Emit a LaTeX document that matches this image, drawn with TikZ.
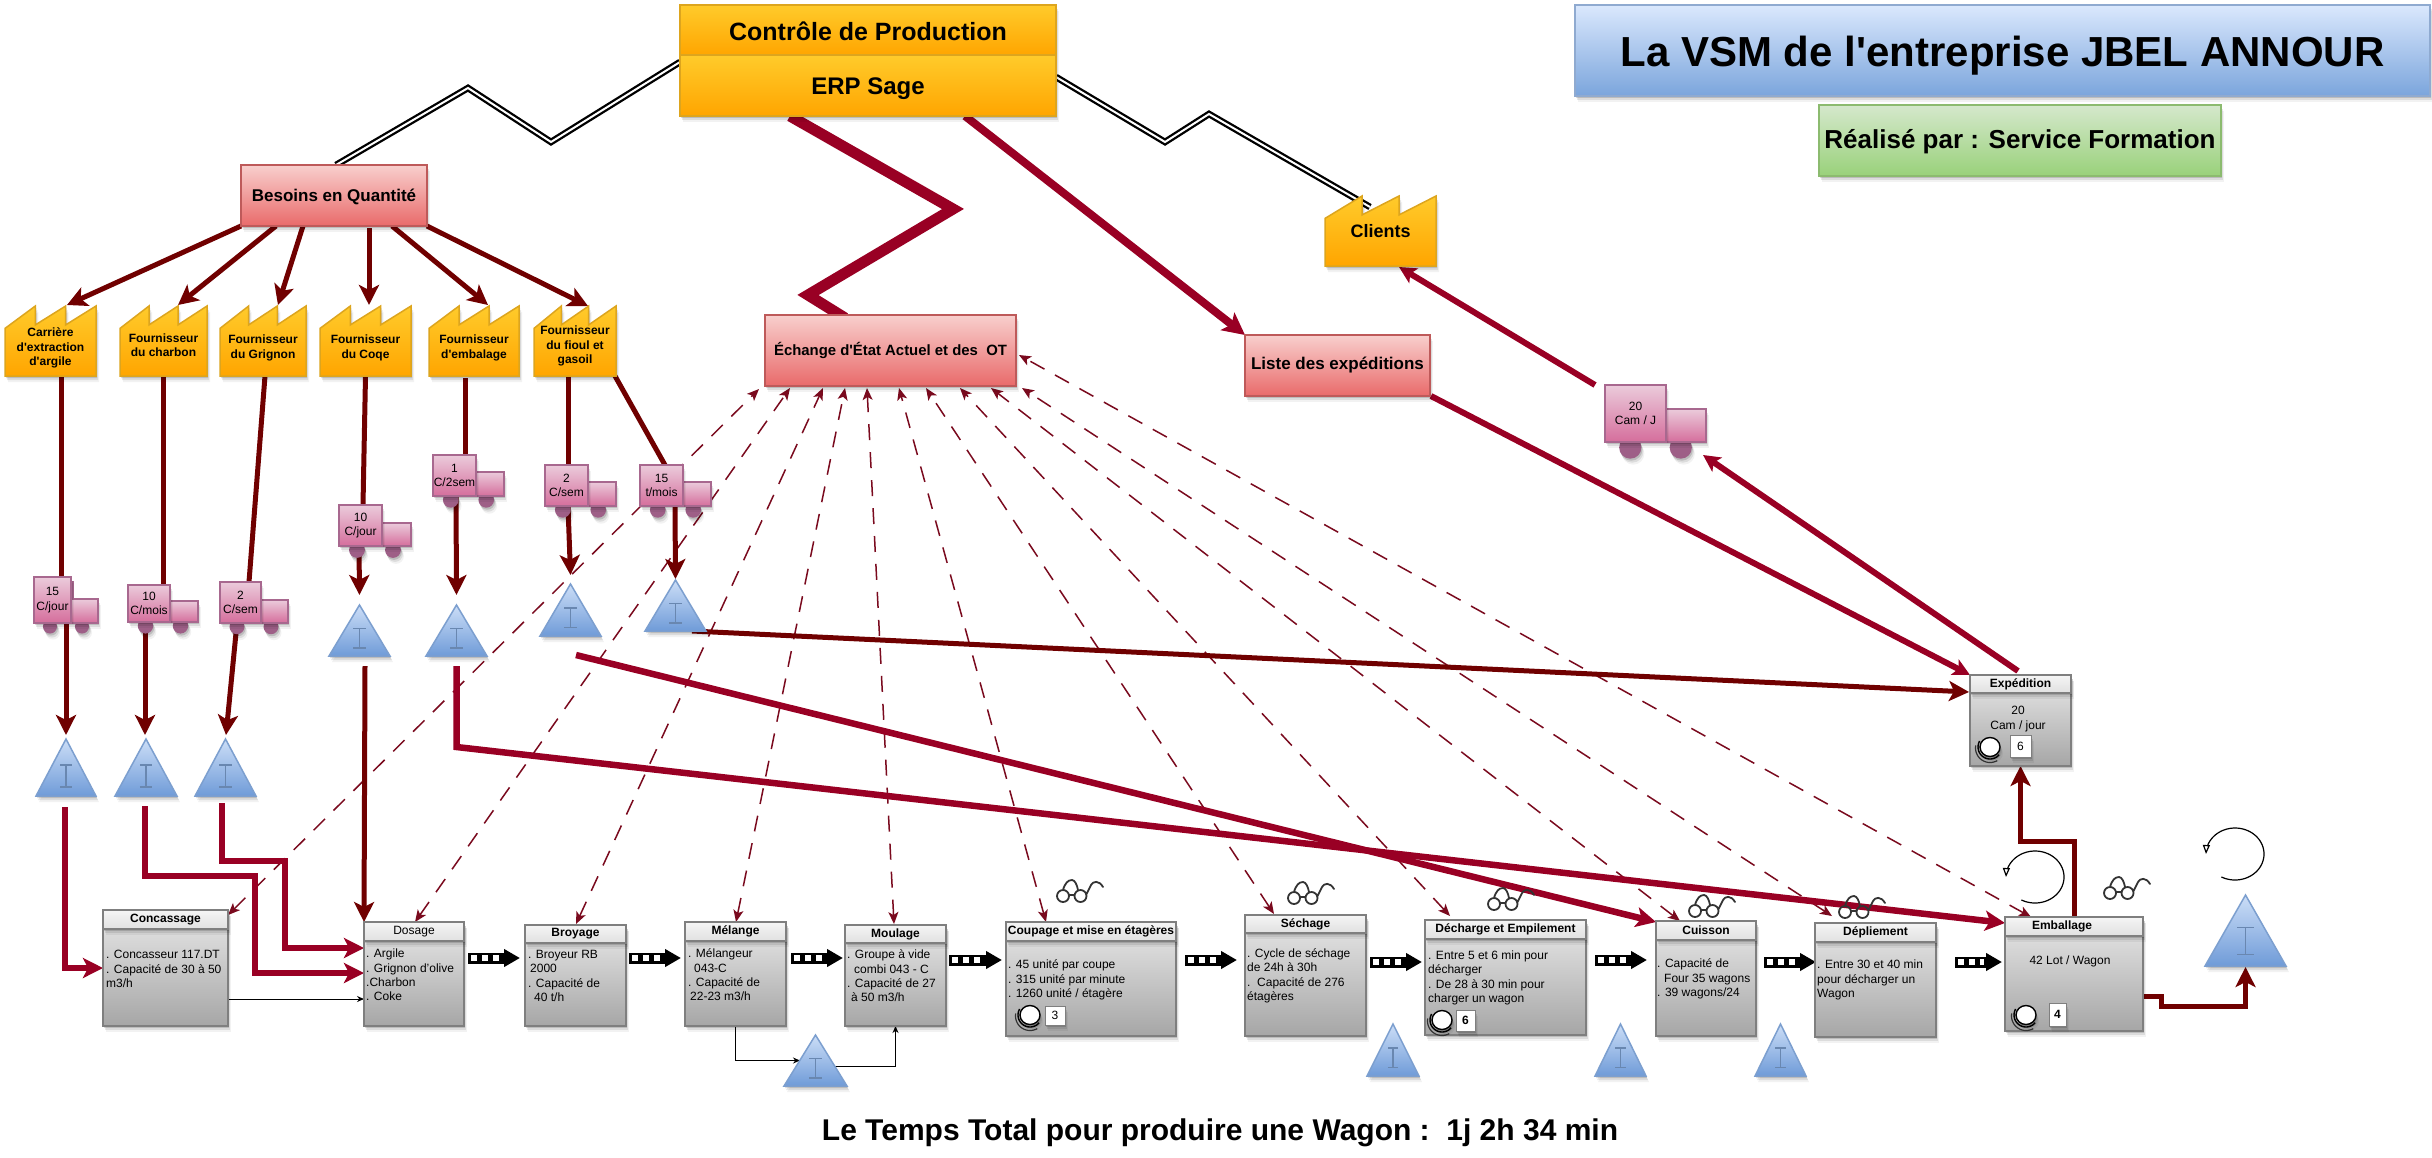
\documentclass[tikz,border=0pt]{standalone}
\usepackage{fontspec}
\setmainfont{Liberation Sans}[Ligatures=TeXOff]
\usetikzlibrary{arrows.meta,shadows,calc}
\pgfdeclarelayer{bg}\pgfsetlayers{bg,main}
\definecolor{orgT}{HTML}{FFCB2B}\definecolor{orgB}{HTML}{FFA500}\definecolor{orgL}{HTML}{DDA51E}
\definecolor{redT}{HTML}{F8CFCD}\definecolor{redB}{HTML}{E96A6A}\definecolor{redL}{HTML}{BE5A5A}
\definecolor{pnkT}{HTML}{EBCBDB}\definecolor{pnkB}{HTML}{D56E9C}\definecolor{pnkL}{HTML}{A8688F}\definecolor{whl}{HTML}{9E5F87}
\definecolor{bluT}{HTML}{CCDEF7}\definecolor{bluB}{HTML}{6F9BD8}\definecolor{bluL}{HTML}{7C9FCF}
\definecolor{ttlT}{HTML}{DAE8FD}\definecolor{ttlB}{HTML}{7BA5DC}\definecolor{ttlL}{HTML}{8FAAD0}
\definecolor{grnT}{HTML}{D5E8CC}\definecolor{grnB}{HTML}{99D17A}\definecolor{grnL}{HTML}{8CBB6F}
\definecolor{prcT}{HTML}{E8E8E8}\definecolor{prcB}{HTML}{A6A6A6}\definecolor{prcL}{HTML}{7F7F7F}
\definecolor{darkred}{HTML}{700000}\definecolor{crim}{HTML}{990024}\definecolor{dashc}{HTML}{7A0A1E}
\tikzset{
 softsh/.style={drop shadow={shadow xshift=1pt,shadow yshift=-2pt,opacity=.14,fill=black},
   drop shadow={shadow xshift=2pt,shadow yshift=-4pt,opacity=.09,fill=black},
   drop shadow={shadow xshift=3pt,shadow yshift=-6pt,opacity=.05,fill=black}},
 boxbase/.style={rectangle,inner sep=0pt,outer sep=0pt,anchor=north west,line width=2pt,align=center,softsh},
 orangefill/.style={top color=orgT,bottom color=orgB,draw=orgL},
 redfill/.style={top color=redT,bottom color=redB,draw=redL},
 pinkfill/.style={top color=pnkT,bottom color=pnkB,draw=pnkL},
 bluefill/.style={top color=bluT,bottom color=bluB,draw=bluL},
 titlefill/.style={top color=ttlT,bottom color=ttlB,draw=ttlL},
 greenfill/.style={top color=grnT,bottom color=grnB,draw=grnL},
 procfill/.style={top color=prcT,bottom color=prcB,draw=prcL},
 headfill/.style={top color=white!96!black,bottom color=white!88!black,draw=prcL},
 ghost/.style={rectangle,inner sep=0pt,outer sep=0pt,anchor=north west},
 factlabel/.style={align=center,inner sep=0pt,font=\fontsize{12}{14.4}\selectfont\bfseries},
 trucklabel/.style={align=center,inner sep=0pt,font=\fontsize{12}{14.4}\selectfont},
 headtxt/.style={font=\fontsize{12}{14}\selectfont\bfseries},
 bodytxt/.style={anchor=west,align=left,inner sep=0pt,font=\fontsize{12}{14.4}\selectfont},
 numbox/.style={rectangle,draw=prcL,fill=white,line width=1pt,inner sep=0pt,outer sep=0pt,anchor=north west,font=\fontsize{12}{14}\selectfont,softsh},
 darkflow/.style={draw=darkred,line width=5pt,miter limit=10,-{Stealth[length=20pt,width=20pt,inset=5pt]}},
 crimflow/.style={draw=crim,line width=6.5pt,miter limit=10,-{Stealth[length=20pt,width=20pt,inset=5pt]}},
 infoflow/.style={draw=crim,line width=6pt,-{Stealth[length=17pt,width=17pt,inset=4pt]}},
 dashflow/.style={draw=dashc,line width=1.5pt,dash pattern=on 16pt off 12pt,{Stealth[length=12pt,width=10pt,inset=3pt]}-{Stealth[length=12pt,width=10pt,inset=3pt]}},
 thinflow/.style={draw=black,line width=1pt,-{Stealth[length=7pt,width=6pt]}},
 eflow/.style={draw=black,line width=2.3pt,double=white,double distance=2pt,miter limit=10},
 pushflow/.style={draw=black,line width=11pt,-{Triangle[length=16pt,width=17pt]},
   postaction={draw=white,-,line width=6pt,dash pattern=on 6pt off 5pt,shorten >=18pt,shorten <=3pt}},
 cycleflow/.style={draw=black,line width=1.2pt,-{Triangle[open,length=9pt,width=7pt,fill=white]}},
 plain/.style={draw=darkred,line width=5pt},
}
\newcommand\rectnode[7]{\node[boxbase,#1,minimum width={#5-#3},minimum height={#6-#4}] (#2) at (#3,#4) {#7};}
\newcommand\factory[8][]{%
 \pgfmathsetmacro\fa{#3+(#5-#3)/3}\pgfmathsetmacro\fb{#3+2*(#5-#3)/3}%
 \pgfmathsetmacro\fs{#4+.32*(#6-#4)}\pgfmathsetmacro\fn{#4+.27*(#6-#4)}%
 \draw[orangefill,softsh,line width=1.5pt] (#3,#6) -- (#3,\fs) -- (\fa,#4) -- (\fa,\fn) -- (\fb,#4) -- (\fb,\fn) -- (#5,#4) -- (#5,#6) -- cycle;
 \node[ghost,minimum width={#5-#3},minimum height={#6-#4}] (#2) at (#3,#4) {};
 \node[factlabel,#1] (#2t) at ({(#3+#5)/2},#7) {#8};}
\newcommand\truck[8]{%
 \pgfmathsetmacro\tw{#6-#2}\pgfmathsetmacro\tr{.11*\tw}\pgfmathsetmacro\ty{#5+.5*\tr}%
 \fill[whl,softsh] ({#2+.25*\tw},\ty) circle[radius=\tr pt];
 \fill[whl,softsh] ({#2+.75*\tw},\ty) circle[radius=\tr pt];
 \draw[pinkfill,softsh,line width=1.5pt] (#4,#7) rectangle (#6,#5);
 \node[boxbase,pinkfill,trucklabel,line width=1.5pt,minimum width={#4-#2},minimum height={#5-#3}] (#1) at (#2,#3) {#8};}
\newcommand\kanban[5]{%
 \pgfmathsetmacro\kc{(#2+#4)/2}\pgfmathsetmacro\kh{#5-#3}\pgfmathsetmacro\kw{.1*(#4-#2)}%
 \pgfmathsetmacro\ka{#3+.46*\kh}\pgfmathsetmacro\kb{#3+.84*\kh}%
 \draw[bluefill,softsh,line width=1.5pt,line join=miter] (#2,#5) -- (\kc,#3) -- (#4,#5) -- cycle;
 \draw[draw=bluL!85!black,line width=1.6pt] ({\kc-\kw},\ka) -- ({\kc+\kw},\ka) (\kc,\ka) -- (\kc,\kb) ({\kc-\kw},\kb) -- ({\kc+\kw},\kb);
 \node[ghost,minimum width={#4-#2},minimum height={#5-#3}] (#1) at (#2,#3) {};}
\newcommand\procbox[7]{%
 \rectnode{procfill}{#1}{#2}{#3}{#4}{#5}{}
 \rectnode{headfill,headtxt}{#1h}{#2}{#3}{#4}{#6}{#7}}
\newcommand\opicon[7]{% name cx cy corner w h number
 \draw[black,line width=1.4pt] plot[domain=150:320,samples=24] ({#2+12*cos(\x)},{#3-12*sin(\x)});
 \draw[black!80,line width=1.2pt] plot[domain=170:300,samples=24] ({#2+14.5*cos(\x)},{#3+1-14.5*sin(\x)});
 \draw[black,fill=white,line width=1.4pt,softsh] (#2,#3) ellipse[x radius=10pt,y radius=9.5pt];
 \node[numbox,minimum width=#5,minimum height=#6] (#1) at (#4) {#7};}
\newcommand\glassicon[2]{%
 \draw[shift={(#1,#2)},draw=black!80,line width=1.8pt,line cap=round]
  (-15,5) circle[radius=6pt] (2.5,5) circle[radius=6pt] (-9,4) -- (-3.5,4)
  (-15,-1) .. controls (-13,-8) and (-10,-11) .. (-6,-11) .. controls (-3,-11) and (-1,-6) .. (0,-1)
  (8,4) -- (13,-6) .. controls (15,-10) and (21,-11) .. (25,-4);}
\begin{document}
\begin{tikzpicture}[x=1pt,y=-1pt]
\useasboundingbox (0,0) rectangle (2432,1157);
% information boxes
\rectnode{orangefill,font=\fontsize{25}{28}\selectfont\bfseries}{ctl}{680}{5}{1056}{55}{\rule{0pt}{21pt}Contrôle de Production}
\rectnode{orangefill,font=\fontsize{24}{28}\selectfont\bfseries}{erp}{680}{55}{1056}{116}{\rule{0pt}{24pt}ERP Sage}
\rectnode{redfill,font=\fontsize{17}{20}\selectfont\bfseries}{bes}{241}{165}{427}{226}{\rule{0pt}{15pt}Besoins en Quantité}
\rectnode{redfill,font=\fontsize{14.9}{16}\selectfont\bfseries}{ech}{765}{315}{1016}{386}{Échange d'État Actuel et des\ \ OT}
\rectnode{redfill,font=\fontsize{17}{20}\selectfont\bfseries}{lis}{1245}{335}{1430}{396}{Liste des expéditions}
\rectnode{titlefill,font=\fontsize{42}{46}\selectfont\bfseries}{ttl}{1575}{5}{2430}{96}{\rule{0pt}{40pt}La VSM de l'entreprise JBEL ANNOUR}
\rectnode{greenfill,font=\fontsize{26}{30}\selectfont\bfseries}{rea}{1819}{105}{2221}{176}{\rule{0pt}{22pt}Réalisé par : Service Formation}
\node[font=\fontsize{30}{34}\selectfont\bfseries,inner sep=0pt] (tot) at (1220,1133) {Le Temps Total pour produire une Wagon :\ \ 1j 2h 34 min};
% factories
\factory{f1}{5}{306}{96}{376}{348}{Carrière\\d'extraction\\d'argile}
\factory{f2}{120}{306}{207}{376}{345}{Fournisseur\\du charbon}
\factory{f3}{220}{306}{306}{376}{348}{Fournisseur\\du Grignon}
\factory{f4}{320}{306}{411}{376}{348}{Fournisseur\\du Coqe}
\factory{f5}{429}{306}{519}{376}{348}{Fournisseur\\d'embalage}
\factory{f6}{534}{306}{616}{376}{346}{Fournisseur\\du fioul et\\gasoil}
\factory[font=\fontsize{18}{20}\selectfont\bfseries]{cli}{1325}{196}{1436}{266}{231}{Clients}
% trucks
\draw[pinkfill,line width=1.5pt] (38,582) rectangle (73,622);
\truck{t1}{34}{577}{71}{623}{98}{599}{15\\C/jour}
\truck{t2}{128}{585}{170}{622}{198}{601}{10\\C/mois}
\truck{t3}{220}{582}{261}{623}{288}{600}{2\\C/sem}
\truck{t4}{339}{505}{382}{546}{411}{523}{10\\C/jour}
\truck{t5}{433}{455}{476}{496}{504}{472}{1\\C/2sem}
\truck{t6}{545}{465}{588}{506}{616}{482}{2\\C/sem}
\truck{t7}{640}{465}{683}{506}{711}{482}{15\\t/mois}
\truck{tt}{1605}{385}{1666}{442}{1706}{409}{20\\Cam / J}
% kanban triangles
\kanban{k1}{36}{739}{96}{796}
\kanban{k2}{115}{739}{177}{796}
\kanban{k3}{195}{739}{256}{796}
\kanban{k4}{329}{605}{390}{656}
\kanban{k5}{426}{605}{487}{656}
\kanban{k6}{540}{584}{601}{636}
\kanban{k7}{645}{580}{706}{631}
\kanban{k8}{784}{1035}{847}{1086}
\kanban{k9}{1367}{1024}{1419}{1076}
\kanban{k10}{1595}{1024}{1646}{1076}
\kanban{k11}{1755}{1024}{1806}{1076}
\kanban{k12}{2205}{895}{2286}{966}
% process boxes
\procbox{con}{103}{910}{228}{1026}{929}{Concassage}
\procbox{dos}{364}{922}{464}{1026}{941}{\mdseries Dosage}
\procbox{bro}{525}{925}{626}{1026}{943}{Broyage}
\procbox{mel}{685}{922}{786}{1026}{941}{Mélange}
\procbox{mou}{845}{925}{946}{1026}{943}{Moulage}
\procbox{cou}{1006}{922}{1176}{1036}{941}{Coupage et mise en étagères}
\procbox{sec}{1245}{915}{1366}{1036}{933}{Séchage}
\procbox{dec}{1425}{920}{1586}{1035}{939}{Décharge et Empilement}
\procbox{cui}{1656}{921}{1756}{1036}{940}{Cuisson}
\procbox{dep}{1815}{923}{1936}{1037}{942}{Dépliement}
\procbox{emb}{2005}{917}{2143}{1031}{936}{\hspace*{-24pt}Emballage}
\procbox{exp}{1970}{675}{2071}{766}{693}{Expédition}
% process texts
\node[bodytxt] (conb) at (106,969) {. Concasseur 117.DT\\. Capacité de 30 à 50\\m3/h};
\node[bodytxt] (dosb) at (366,975) {. Argile\\. Grignon d’olive\\.Charbon\\. Coke};
\node[bodytxt] (brob) at (528,976) {. Broyeur RB\\\hspace*{2pt}2000\\. Capacité de\\\hspace*{6pt}40 t/h};
\node[bodytxt] (melb) at (688,975) {. Mélangeur\\\hspace*{6pt}043-C\\. Capacité de\\\hspace*{2pt}22-23 m3/h};
\node[bodytxt] (moub) at (847,976) {. Groupe à vide\\\hspace*{7pt}combi 043 - C\\. Capacité de 27\\\hspace*{4pt}à 50 m3/h};
\node[bodytxt] (coub) at (1008,980) {. 45 unité par coupe\\. 315 unité par minute\\. 1260 unité / étagère};
\node[bodytxt] (secb) at (1247,976) {. Cycle de séchage\\de 24h à 30h\\.\ \ Capacité de 276\\étagères};
\node[bodytxt] (decb) at (1428,978) {. Entre 5 et 6 min pour\\décharger\\. De 28 à 30 min pour\\charger un wagon};
\node[bodytxt] (cuib) at (1657,979) {. Capacité de\\\hspace*{7pt}Four 35 wagons\\. 39 wagons/24};
\node[bodytxt] (depb) at (1817,980) {. Entre 30 et 40 min\\pour décharger un\\Wagon};
\node[trucklabel] (embb) at (2070,961) {42 Lot / Wagon};
\node[trucklabel] (expb) at (2018,719) {20\\Cam / jour};
% operators
\opicon{op1}{1030}{1015}{1045,1006}{20}{19}{3}
\opicon{op2}{1442}{1020}{1456,1010}{19}{21}{\bfseries 6}
\opicon{op3}{2026}{1015}{2049,1003}{17}{23}{\bfseries 4}
\opicon{op4}{1990}{747}{2010,735}{21}{22}{6}
% glasses
\glassicon{1078}{891}
\glassicon{1309}{893}
\glassicon{1509}{899}
\glassicon{1710}{906}
\glassicon{1860}{907}
\glassicon{2125}{888}
% circular arrows
\draw[cycleflow] plot[domain=242:540,samples=70] ({2035+29*cos(\x)},{877-26*sin(\x)});
\draw[cycleflow] plot[domain=242:540,samples=70] ({2235+29*cos(\x)},{854-26*sin(\x)});
\begin{pgfonlayer}{bg}
\fill[white] (0,0) rectangle (2432,1157);
% dashed exchanges
\draw[dashflow] ([shift={(0,5)}]con.north east) -- ([shift={(-6,3)}]ech.south west);
\draw[dashflow] ([shift={(1,0)}]dos.north) -- ([shift={(25,2)}]ech.south west);
\draw[dashflow] ([shift={(.5,-1)}]bro.north) -- ([shift={(58,2)}]ech.south west);
\draw[dashflow] ([shift={(.5,0)}]mel.north) -- ([shift={(80,2)}]ech.south west);
\draw[dashflow] ([shift={(-1.5,-1)}]mou.north) -- ([shift={(102,2)}]ech.south west);
\draw[dashflow] ([shift={(-45,0)}]cou.north) -- ([shift={(134,2)}]ech.south west);
\draw[dashflow] ([shift={(-31.5,-1)}]sec.north) -- ([shift={(161,2)}]ech.south west);
\draw[dashflow] ([shift={(-55.5,-4)}]dec.north) -- ([shift={(195,2)}]ech.south west);
\draw[dashflow] ([shift={(-26,0)}]cui.north) -- ([shift={(226,2)}]ech.south west);
\draw[dashflow] ([shift={(-43.5,-7)}]dep.north) -- ([shift={(257,2)}]ech.south west);
\draw[dashflow] ([shift={(-43,0)}]emb.north) -- ([shift={(3,4.5)}]ech.east);
% electronic flows
\draw[eflow] ([shift={(2,0)}]bes.north) -- ++(132,-77) -- ++(83,54) -- ([shift={(0,-23.5)}]erp.west);
\draw[eflow] ([shift={(0,-8.5)}]erp.east) -- ++(109,65) -- ++(44,-28) -- ([shift={(-10.5,11)}]cli.north);
% orders
\draw[darkflow] (bes.south west) -- ([shift={(16.5,-1)}]f1.north);
\draw[darkflow] ([shift={(35,0)}]bes.south west) -- ([shift={(14.5,-1)}]f2.north);
\draw[darkflow] ([shift={(62,0)}]bes.south west) -- ([shift={(15,-1)}]f3.north);
\draw[darkflow] ([shift={(35,2)}]bes.south) -- ([shift={(3.5,-1)}]f4.north);
\draw[darkflow] ([shift={(58,0)}]bes.south) -- ([shift={(14,-1)}]f5.north);
\draw[darkflow] (bes.south east) -- ([shift={(13,0)}]f6.north);
% supplier to truck
\draw[plain] ([shift={(10.5,0)}]f1.south) -- ([shift={(8.5,0)}]t1.north);
\draw[plain] ([shift={(-.5,0)}]f2.south) -- ([shift={(14,0)}]t2.north);
\draw[plain] ([shift={(2,0)}]f3.south) -- ([shift={(8.5,0)}]t3.north);
\draw[plain] (f4.south) -- ([shift={(2.5,0)}]t4.north);
\draw[plain] ([shift={(-9,2)}]f5.south) -- ([shift={(10.5,0)}]t5.north);
\draw[plain] ([shift={(-7,0)}]f6.south) -- ([shift={(1.5,0)}]t6.north);
\draw[plain] ([shift={(-1,0)}]f6.south east) -- ([shift={(3.5,0)}]t7.north);
% truck to stock
\draw[darkflow] ([shift={(13.5,0)}]t1.south) -- ([shift={(0,-4)}]k1.north);
\draw[darkflow] ([shift={(-4,0)}]t2.south) -- ([shift={(-1,-4)}]k2.north);
\draw[darkflow] ([shift={(-3.5,0)}]t3.south) -- ([shift={(.5,-4)}]k3.north);
\draw[darkflow] ([shift={(-1.5,0)}]t4.south) -- ([shift={(0,-10)}]k4.north);
\draw[darkflow] ([shift={(1.5,0)}]t5.south) -- ([shift={(0,-10)}]k5.north);
\draw[darkflow] ([shift={(1.5,0)}]t6.south) -- ([shift={(0,-9)}]k6.north);
\draw[darkflow] ([shift={(13.5,0)}]t7.south) -- ([shift={(0,-1)}]k7.north);
% stock to process
\draw[darkflow] ([shift={(5.5,10)}]k4.south) -- (dos.north west);
\draw[darkflow] ([shift={(-14,0)}]k7.south east) -- ([shift={(-1,17)}]exp.north west);
\draw[crimflow] ([shift={(0,10)}]k5.south) -- ++(0,81) -- ([shift={(0,6)}]emb.north west);
\draw[crimflow] ([shift={(-25,19)}]k6.south east) -- ([shift={(0,1)}]cui.north west);
\draw[crimflow] ([shift={(-1,11)}]k1.south) |- (con.west);
\draw[crimflow] ([shift={(-1,10)}]k2.south) -- ++(0,70) -- ++(110,0) |- ([shift={(0,-1)}]dos.west);
\draw[crimflow] ([shift={(-3.5,7)}]k3.south) -- ++(0,58) -- ++(63,0) |- ([shift={(0,-26)}]dos.west);
% information flows
\draw[draw=crim,line width=11pt,miter limit=10] ([shift={(-78,0)}]erp.south) -- ++(163,93) -- ++(-145,86) -- ([shift={(-45.5,3)}]ech.north);
\draw[draw=crim,line width=8pt,-{Stealth[length=22pt,width=22pt,inset=5pt]}] ([shift={(97,0)}]erp.south) -- (lis.north west);
\draw[infoflow] ([shift={(1,0)}]lis.south east) -- (exp.north west);
\draw[infoflow] ([shift={(-2.5,-4)}]exp.north) -- ([shift={(37,13)}]tt.south east);
\draw[infoflow] ([shift={(-10,0)}]tt.north west) -- ([shift={(18.5,1)}]cli.south);
% outbound
\draw[darkflow] (emb.north) -- ++(0,-76) -| (exp.south);
\draw[darkflow] ([shift={(1,22)}]emb.east) -- ++(17,0) -- ++(0,10) -| ([shift={(0,1)}]k12.south);
% thin flows
\draw[thinflow] ([shift={(1,31)}]con.east) -- ([shift={(0,25)}]dos.west);
\draw[thinflow] (mel.south) |- ([shift={(16,0)}]k8.west);
\draw[thinflow] ([shift={(-13,5.5)}]k8.east) -| (mou.south);
% push arrows
\draw[pushflow] ([shift={(4,-16)}]dos.east) -- ([shift={(-5,-17.5)}]bro.west);
\draw[pushflow] ([shift={(3,-17.5)}]bro.east) -- ([shift={(-4,-16)}]mel.west);
\draw[pushflow] ([shift={(5,-16)}]mel.east) -- ([shift={(-2,-17.5)}]mou.west);
\draw[pushflow] ([shift={(3,-15.5)}]mou.east) -- ([shift={(-4,-19)}]cou.west);
\draw[pushflow] ([shift={(9,-19)}]cou.east) -- ([shift={(-8,-15.5)}]sec.west);
\draw[pushflow] ([shift={(4,-13.5)}]sec.east) -- ([shift={(-3,-15.5)}]dec.west);
\draw[pushflow] ([shift={(9,-17.5)}]dec.east) -- ([shift={(-9,-18.5)}]cui.west);
\draw[pushflow] ([shift={(8,-16.5)}]cui.east) -- ([shift={(1,-18)}]dep.west);
\draw[pushflow] ([shift={(19,-18)}]dep.east) -- ([shift={(-3,-12)}]emb.west);
\end{pgfonlayer}
\end{tikzpicture}
\end{document}
